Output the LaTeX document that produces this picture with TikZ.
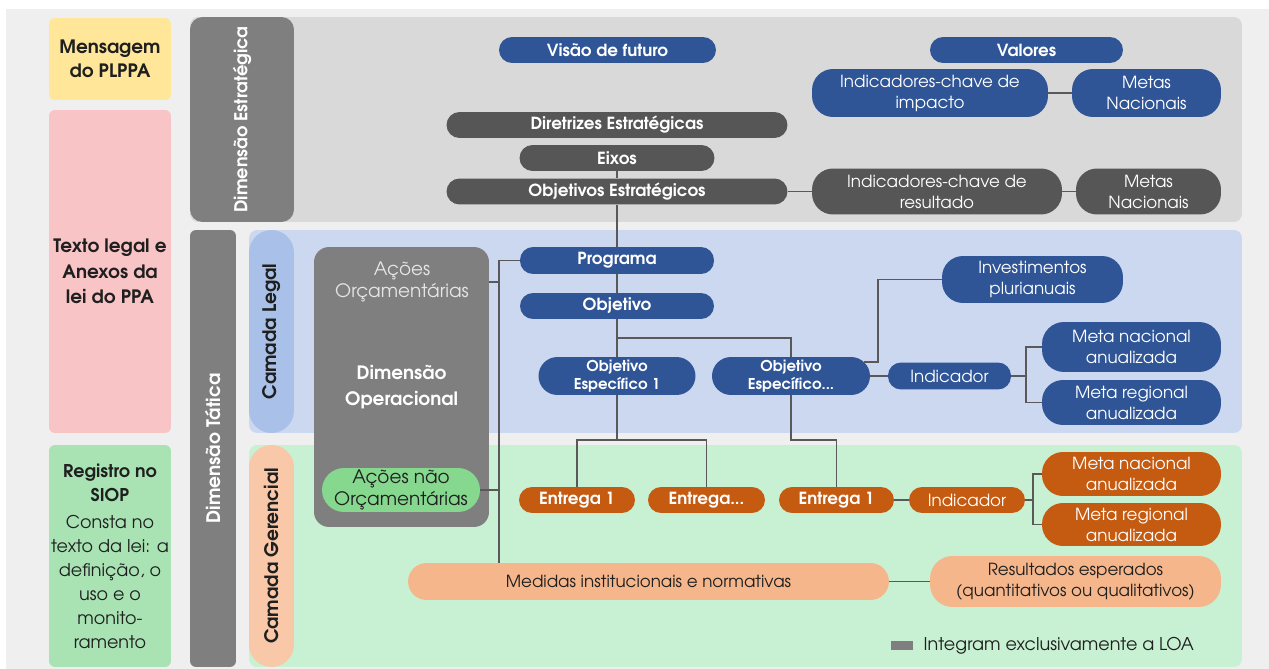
\documentclass[tikz,border=0pt]{standalone}
\usepackage{fontspec}
\setmainfont{texgyreadventor}[Extension=.otf, UprightFont=*-regular, BoldFont=*-bold, ItalicFont=*-italic, BoldItalicFont=*-bolditalic]
\usepackage{xcolor}
\usepackage{tikz}
\usetikzlibrary{shapes.geometric, arrows, positioning, calc}
\definecolor{bggray}{HTML}{EFEFEF}
\definecolor{yellowside}{HTML}{FFE699}
\definecolor{pinkside}{HTML}{F8C4C6}
\definecolor{greenside}{HTML}{A9E3B4}
\definecolor{panelgray}{HTML}{D9D9D9}
\definecolor{panelblue}{HTML}{CCD7F0}
\definecolor{panelgreen}{HTML}{C8F0D2}
\definecolor{bandgray}{HTML}{7F7F7F}
\definecolor{bandblue}{HTML}{A9C1E8}
\definecolor{bandpeach}{HTML}{F8C8A8}
\definecolor{greenop}{HTML}{86D88F}
\definecolor{nodeblue}{HTML}{2F5597}
\definecolor{nodedark}{HTML}{565656}
\definecolor{nodeorange}{HTML}{C55A11}
\definecolor{nodepeach}{HTML}{F5B68B}
\definecolor{linegray}{HTML}{595959}
\definecolor{textdark}{HTML}{1F1F1F}
\tikzstyle{pill} = [rectangle, text centered, align=center, inner sep=0pt, rounded corners=0.26cm, minimum height=0.52cm]
\tikzstyle{bluebox} = [pill, fill=nodeblue, text=white]
\tikzstyle{darkbox} = [pill, fill=nodedark, text=white]
\tikzstyle{orangebox} = [pill, fill=nodeorange, text=white]
\tikzstyle{peachbox} = [pill, fill=nodepeach, text=textdark]
\tikzstyle{sidebox} = [rectangle, text centered, align=center, inner sep=0pt, rounded corners=0.12cm, minimum width=2.44cm, text=textdark, font=\fontsize{10}{13.6}\selectfont]
\tikzstyle{panel} = [rectangle, rounded corners=0.16cm, inner sep=0pt]
\tikzstyle{band} = [rectangle, rotate=90, text centered, inner sep=0pt, font=\fontsize{10.6}{13}\selectfont\bfseries]
\tikzstyle{link} = [draw=linegray, line width=1.1pt]

\begin{document}
\begin{tikzpicture}[x=0.02cm, y=-0.02cm, font=\fontsize{9.5}{12}\selectfont]
\useasboundingbox (0,0) rectangle (1269,669);
\fill [white] (0,0) rectangle (1269,669);
\fill [bggray] (6,9) rectangle (1269,669);
% coluna da esquerda
\node [sidebox, fill=yellowside, minimum height=1.64cm, font=\fontsize{10.5}{14}\selectfont] at (110,59) (mensagem)
	{\textbf{Mensagem}\\\textbf{do PLPPA}};
\node [sidebox, fill=pinkside, minimum height=6.46cm, font=\fontsize{10.5}{14.5}\selectfont] at (110,271.5) (textolegal)
	{\textbf{Texto legal e}\\\textbf{Anexos da}\\\textbf{lei do PPA}};
\node [sidebox, fill=greenside, minimum height=4.44cm] at (110,556) (registro)
	{\textbf{Registro no}\\\textbf{SIOP}\\[2pt]Consta no\\texto da lei: a\\definição, o\\uso e o\\monito-\\ramento};
% paineis
\node [panel, fill=panelgray, minimum width=21.04cm, minimum height=4.10cm] at (716,119.5) (estrategica) {};
\node [panel, fill=panelblue, minimum width=19.86cm, minimum height=4.06cm] at (745.5,331.5) (legal) {};
\node [panel, fill=panelgreen, minimum width=19.86cm, minimum height=4.44cm] at (745.5,556) (gerencial) {};
\node [band, fill=bandgray, text=white, minimum width=4.10cm, minimum height=2.08cm, rounded corners=0.25cm,
	font=\fontsize{10.1}{12}\selectfont\bfseries] at (242,119.5) (dimest) {Dimensão Estratégica};
\node [band, fill=bandgray, text=white, minimum width=8.74cm, minimum height=0.92cm, rounded corners=0.12cm]
	at (213,448.5) (dimtat) {Dimensão Tática};
\node [band, fill=bandblue, text=textdark, minimum width=4.06cm, minimum height=0.90cm, rounded corners=0.45cm]
	at (271.5,331.5) (camlegal) {Camada Legal};
\node [band, fill=bandpeach, text=textdark, minimum width=4.44cm, minimum height=0.90cm, rounded corners=0.45cm]
	at (271.5,556) (camger) {Camada Gerencial};
% dimensao operacional
\node [panel, fill=bandgray, text=white, align=center, rounded corners=0.3cm, minimum width=3.50cm, minimum height=5.60cm,
	font=\fontsize{10.5}{15}\selectfont] at (401.5,387) (dimop) {\textbf{Dimensão}\\\textbf{Operacional}};
\node [text=white!90!black, align=center, font=\fontsize{10.5}{13}\selectfont] at (402,282) (acoesorc) {Ações\\Orçamentárias};
\node [pill, fill=greenop, text=textdark, minimum width=3.16cm, minimum height=0.88cm, rounded corners=0.44cm,
	font=\fontsize{10.5}{13}\selectfont] at (401,490) (acoesnao) {Ações não\\Orçamentárias};
% dimensao estrategica
\node [bluebox, minimum width=4.34cm] at (607.5,50) (visao) {\textbf{Visão de futuro}};
\node [bluebox, minimum width=3.86cm] at (1026.5,50) (valores) {\textbf{Valores}};
\node [bluebox, minimum width=4.72cm, minimum height=0.96cm, rounded corners=0.42cm] at (930,93) (ikimpacto)
	{Indicadores-chave de\\impacto};
\node [bluebox, minimum width=2.98cm, minimum height=0.96cm, rounded corners=0.42cm] at (1146.5,93) (metasimpacto)
	{Metas\\Nacionais};
\node [darkbox, minimum width=6.82cm] at (617,125) (diretrizes) {\textbf{Diretrizes Estratégicas}};
\node [darkbox, minimum width=3.90cm] at (617,158) (eixos) {\textbf{Eixos}};
\node [darkbox, minimum width=6.82cm] at (617,191.5) (objest) {\textbf{Objetivos Estratégicos}};
\node [darkbox, minimum width=5.00cm, minimum height=0.92cm, rounded corners=0.42cm] at (937,191.5) (ikresultado)
	{Indicadores-chave de\\resultado};
\node [darkbox, minimum width=2.90cm, minimum height=0.92cm, rounded corners=0.42cm] at (1148.5,191.5) (metasresultado)
	{Metas\\Nacionais};
% camada legal
\node [bluebox, minimum width=3.88cm, minimum height=0.54cm] at (617,260.5) (programa) {\textbf{Programa}};
\node [bluebox, minimum width=3.88cm] at (617,306) (objetivo) {\textbf{Objetivo}};
\node [bluebox, minimum width=3.14cm, minimum height=0.76cm, rounded corners=0.38cm, font=\fontsize{8.5}{10}\selectfont]
	at (617,376) (oe1) {\textbf{Objetivo}\\\textbf{Específico 1}};
\node [bluebox, minimum width=3.16cm, minimum height=0.76cm, rounded corners=0.38cm, font=\fontsize{8.5}{10}\selectfont]
	at (791,376) (oen) {\textbf{Objetivo}\\\textbf{Específico...}};
\node [bluebox, minimum width=3.62cm, minimum height=0.94cm, rounded corners=0.42cm] at (1032.5,279.5) (investimentos)
	{Investimentos\\plurianuais};
\node [bluebox, minimum width=2.46cm, minimum height=0.54cm] at (949.5,376) (indlegal) {Indicador};
\node [bluebox, minimum width=3.58cm, minimum height=1.00cm, rounded corners=0.44cm] at (1131.5,347) (mnlegal)
	{Meta nacional\\anualizada};
\node [bluebox, minimum width=3.58cm, minimum height=0.90cm, rounded corners=0.42cm] at (1131.5,402.5) (mrlegal)
	{Meta regional\\anualizada};
% camada gerencial
\node [orangebox, minimum width=2.32cm] at (577,500) (entrega1) {\textbf{Entrega 1}};
\node [orangebox, minimum width=2.34cm] at (706.5,500) (entregan) {\textbf{Entrega...}};
\node [orangebox, minimum width=2.30cm] at (836.5,500) (entrega2) {\textbf{Entrega 1}};
\node [orangebox, minimum width=2.32cm] at (967,500) (indger) {Indicador};
\node [orangebox, minimum width=3.58cm, minimum height=0.88cm, rounded corners=0.42cm] at (1131.5,474) (mnger)
	{Meta nacional\\anualizada};
\node [orangebox, minimum width=3.58cm, minimum height=0.86cm, rounded corners=0.42cm] at (1131.5,524.5) (mrger)
	{Meta regional\\anualizada};
\node [peachbox, minimum width=9.62cm, minimum height=0.74cm, rounded corners=0.37cm] at (648.5,581.5) (medidas)
	{Medidas institucionais e normativas};
\node [peachbox, minimum width=5.82cm, minimum height=1.02cm, rounded corners=0.45cm] at (1075.5,581.5) (resultados)
	{Resultados esperados\\(quantitativos ou qualitativos)};
% legenda
\node [fill=bandgray, minimum width=0.44cm, minimum height=0.18cm, inner sep=0pt] at (902,645.5) (legcor) {};
\node [right=0.2cm of legcor, text=textdark, inner sep=0pt, font=\fontsize{10}{12}\selectfont] (legtexto)
	{Integram exclusivamente a LOA};
% ligacoes
\draw [link] (eixos) -- (objest);
\draw [link] (objest) -- (programa);
\draw [link] (programa) -- (objetivo);
\draw [link] (objetivo) -- (oe1);
\draw [link] (objest) -- (ikresultado);
\draw [link] (ikresultado) -- (metasresultado);
\draw [link] (ikimpacto) -- (metasimpacto);
\coordinate (ramoobj) at ($(objetivo.south)!0.5!(oe1.north)$);
\draw [link] (ramoobj) -| (oen.north);
\coordinate (ramo1) at (617,440);
\coordinate (ramo2) at (791,440);
\draw [link] (oe1) -- (ramo1);
\draw [link] (entrega1.north) |- (ramo1) -| (entregan.north);
\draw [link] (oen) -- (ramo2) -| (entrega2.north);
\draw [link] (oen) -- (indlegal);
\coordinate (kinv) at (878,362);
\draw [link] ($(oen.east |- kinv)+(-6,0)$) -- (kinv) |- (investimentos.west);
\coordinate (klegal) at (1026,376);
\draw [link] (indlegal) -- (klegal);
\draw [link] (mnlegal.west) -| (klegal) |- (mrlegal.west);
\draw [link] (entrega2) -- (indger);
\coordinate (kger) at (1033,500);
\draw [link] (indger) -- (kger);
\draw [link] (mnger.west) -| (kger) |- (mrger.west);
\coordinate (espinha) at (499,260.5);
\draw [link] (programa) -- (espinha) -- (espinha |- medidas.north);
\draw [link] (dimop.east |- acoesorc) -- (espinha |- acoesorc);
\draw [link] (acoesnao) -- (espinha |- acoesnao);
\draw [link] (medidas) -- (resultados);
\end{tikzpicture}
\end{document}
